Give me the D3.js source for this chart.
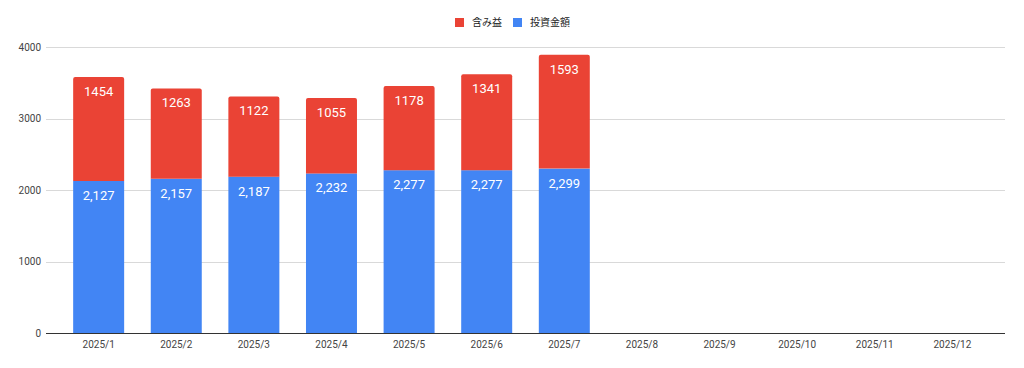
<!DOCTYPE html>
<html><head><meta charset="utf-8">
<script src="https://cdn.jsdelivr.net/npm/d3@7"></script>
<style>body{margin:0;background:#fff;}svg{display:block;font-family:Roboto,"Noto Sans CJK JP",sans-serif;}</style>
</head><body>
<svg id="c" width="1024" height="368"></svg>
<script>
const months = ["2025/1","2025/2","2025/3","2025/4","2025/5","2025/6","2025/7","2025/8","2025/9","2025/10","2025/11","2025/12"];
const invest = [2127,2157,2187,2232,2277,2277,2299];
const profit = [1454,1263,1122,1055,1178,1341,1593];
const yTicks = [0,1000,2000,3000,4000];
const seriesNames = ["含み益","投資金額"];
const colors = ["#ea4335","#4285f4"];

(function(){
const svg = d3.select("#c");
const pL = 46, pR = 1005, pT = 47, pB = 333;
const x = d3.scaleBand().domain(months).range([pL,pR]).paddingInner(0.343).paddingOuter(0.35);
const y = d3.scaleLinear().domain([0,4000]).range([pB,pT]);

svg.append("g").selectAll("line").data(yTicks.filter(d=>d>0)).join("line")
  .attr("x1",pL).attr("x2",pR).attr("y1",d=>Math.round(y(d))+0.5).attr("y2",d=>Math.round(y(d))+0.5)
  .attr("stroke","#d9d9d9").attr("stroke-width",1);

svg.append("g").selectAll("text").data(yTicks).join("text")
  .attr("x",41).attr("y",d=>y(d)).attr("dy","0.35em").attr("text-anchor","end")
  .attr("font-size",10).attr("fill","#444").text(d=>d);

const data = invest.map((v,i)=>({m:months[i], inv:v, pr:profit[i]}));

svg.append("g").selectAll("rect").data(data).join("rect")
  .attr("x",d=>x(d.m)).attr("width",x.bandwidth())
  .attr("y",d=>y(d.inv)).attr("height",d=>y(0)-y(d.inv)).attr("fill",colors[1]);
svg.append("g").selectAll("path").data(data).join("path")
  .attr("d",d=>{
    const x0=x(d.m), w=x.bandwidth(), y0=y(d.inv+d.pr), y1=y(d.inv), r=2;
    return `M${x0},${y1}V${y0+r}Q${x0},${y0} ${x0+r},${y0}H${x0+w-r}Q${x0+w},${y0} ${x0+w},${y0+r}V${y1}Z`;
  }).attr("fill",colors[0]);

svg.append("g").selectAll("text").data(data).join("text")
  .attr("x",d=>x(d.m)+x.bandwidth()/2).attr("y",d=>y(d.inv+d.pr)+19)
  .attr("text-anchor","middle").attr("font-size",13).attr("fill","#fff").text(d=>d.pr);
svg.append("g").selectAll("text").data(data).join("text")
  .attr("x",d=>x(d.m)+x.bandwidth()/2).attr("y",d=>y(d.inv)+19)
  .attr("text-anchor","middle").attr("font-size",13).attr("fill","#fff").text(d=>d3.format(",")(d.inv));

svg.append("line").attr("x1",pL).attr("x2",pR).attr("y1",pB+0.5).attr("y2",pB+0.5)
  .attr("stroke","#333").attr("stroke-width",1);
svg.append("g").selectAll("text").data(months).join("text")
  .attr("x",d=>x(d)+x.bandwidth()/2).attr("y",348).attr("text-anchor","middle")
  .attr("font-size",10).attr("fill","#444").text(d=>d);

const lg = svg.append("g");
const lx = [455,513];
seriesNames.forEach((n,i)=>{
  lg.append("rect").attr("x",lx[i]).attr("y",18).attr("width",9).attr("height",9).attr("fill",colors[i]);
  lg.append("text").attr("x",lx[i]+17).attr("y",22.5).attr("dy","0.35em").attr("font-size",10).attr("fill","#222").text(n);
});
})();
</script>
</body></html>
